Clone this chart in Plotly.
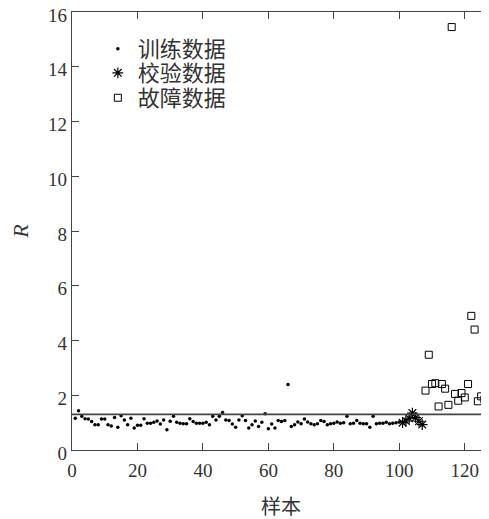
import plotly.graph_objects as go

# ---- data ----
train_x = list(range(1, 101))
train_r = [1.16, 1.43, 1.23, 1.14, 1.13, 1.04, 0.92, 0.92, 1.13, 1.13,
           0.92, 0.88, 1.19, 0.83, 1.25, 1.10, 0.92, 1.16, 0.80, 0.90,
           0.90, 1.14, 0.98, 0.98, 1.01, 1.06, 0.95, 1.10, 0.74, 1.05,
           1.23, 1.01, 0.98, 0.96, 0.96, 1.14, 1.04, 0.98, 0.98, 0.98,
           1.01, 0.92, 1.23, 1.10, 1.23, 1.37, 1.10, 1.08, 0.95, 0.83,
           1.10, 1.25, 1.08, 0.80, 0.92, 1.06, 0.86, 1.01, 1.32, 0.78,
           0.95, 0.80, 1.08, 1.04, 1.08, 2.39, 0.86, 0.92, 1.02, 0.96,
           1.13, 1.02, 0.96, 0.92, 0.96, 1.08, 1.04, 0.92, 0.96, 0.98,
           1.02, 0.98, 1.00, 1.23, 0.96, 0.98, 1.08, 0.98, 0.96, 0.96,
           0.83, 1.23, 0.96, 0.98, 0.98, 1.01, 0.96, 0.98, 1.00, 1.02]
valid_x = list(range(101, 108))
valid_r = [1.00, 1.06, 1.16, 1.35, 1.18, 1.05, 0.93]
fault_x = list(range(108, 129))
fault_r = [2.17, 3.48, 2.41, 2.44, 1.59, 2.41, 2.24, 1.65, 15.45, 2.05,
           1.80, 2.08, 1.92, 2.41, 4.90, 4.40, 1.78, 1.96, 1.85, 1.78, 1.77]
threshold = 1.30
x_ticks = [0, 20, 40, 60, 80, 100, 120]
y_ticks = [0, 2, 4, 6, 8, 10, 12, 14, 16]
names = ["训练数据", "校验数据", "故障数据"]
x_title = "样本"
y_title = "<i>R</i>"

LINE = "#444444"
TEXT = "#333333"
SERIF = "Liberation Serif, Times New Roman, serif"
CJK = "Noto Sans CJK SC, sans-serif"

fig = go.Figure()
fig.add_trace(go.Scatter(x=train_x, y=train_r, mode="markers", name=names[0],
                         legend="legend",
                         marker=dict(symbol="circle", size=3.5, color="black")))
fig.add_trace(go.Scatter(x=valid_x, y=valid_r, mode="markers", name=names[1],
                         legend="legend2",
                         marker=dict(symbol="asterisk-open", size=9, color="black",
                                     line=dict(width=1.2, color="black"))))
fig.add_trace(go.Scatter(x=fault_x, y=fault_r, mode="markers", name=names[2],
                         legend="legend3",
                         marker=dict(symbol="square-open", size=7, color="black",
                                     line=dict(width=1, color="black"))))
fig.add_hline(y=threshold, line=dict(color=LINE, width=1.6))

# x-axis title as a paper-anchored annotation (finer vertical control)
fig.add_annotation(text=x_title, xref="paper", yref="paper", x=0.5, y=0,
                   xanchor="center", yanchor="middle", yshift=-55, showarrow=False,
                   font=dict(family=CJK, size=20, color=TEXT))

legend_style = dict(x=0.062, xanchor="left", yanchor="middle",
                    bgcolor="rgba(0,0,0,0)", borderwidth=0,
                    font=dict(family=CJK, size=22, color=TEXT), itemwidth=30)

# the page body adds an 8px margin, so the figure is 8px smaller on each side
fig.update_layout(
    width=481, height=511,
    margin=dict(l=64, r=0, t=4, b=69),
    plot_bgcolor="white", paper_bgcolor="white",
    showlegend=True,
    legend=dict(y=0.9155, **legend_style),
    legend2=dict(y=0.8607, **legend_style),
    legend3=dict(y=0.8037, **legend_style),
    xaxis=dict(range=[0, 127.4], tickvals=x_ticks, ticktext=[str(v) for v in x_ticks],
               automargin=False,
               showgrid=False, zeroline=False, showline=True, linecolor=LINE,
               linewidth=1.3, mirror="ticks", ticks="inside", ticklen=7,
               tickcolor=LINE, tickwidth=1.3, ticklabelstandoff=3,
               ticklabeloverflow="allow",
               tickfont=dict(family=SERIF, size=19, color=TEXT)),
    yaxis=dict(range=[0, 16], tickvals=y_ticks, ticktext=[str(v) for v in y_ticks],
               automargin=False,
               showgrid=False, zeroline=False, showline=True, linecolor=LINE,
               linewidth=1.3, mirror=False, ticks="inside", ticklen=7,
               tickcolor=LINE, tickwidth=1.3, ticklabeloverflow="allow",
               ticklabelshift=3,
               tickfont=dict(family=SERIF, size=19, color=TEXT),
               title=dict(text=y_title, font=dict(family=SERIF, size=22, color=TEXT), standoff=16)),
    yaxis2=dict(range=[0, 16], overlaying="y", side="right", tickvals=y_ticks,
                automargin=False,
                showticklabels=False, showgrid=False, zeroline=False, showline=False,
                ticks="inside", ticklen=7, tickcolor=LINE, tickwidth=1.3),
)

fig.write_html("out.html")
